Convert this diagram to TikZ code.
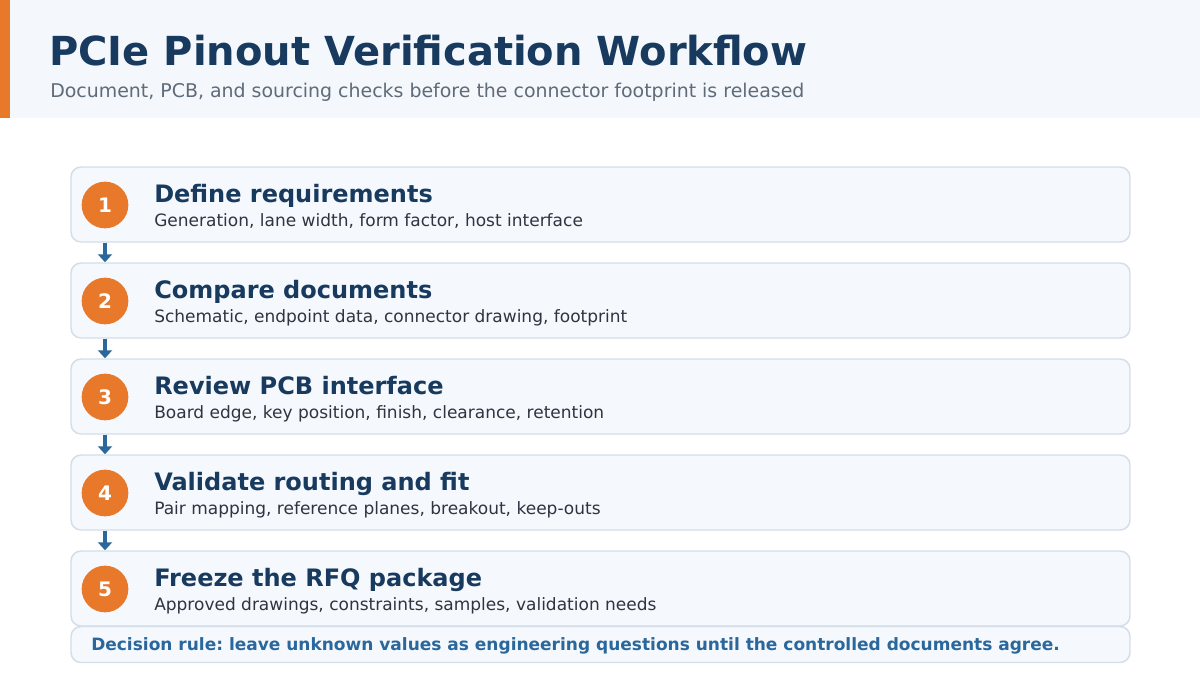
\documentclass[tikz,border=0pt]{standalone}
\usepackage{fontspec}
\setmainfont{DejaVu Sans}
\usetikzlibrary{arrows.meta}
\frenchspacing
\definecolor{navy}{HTML}{173A5E}
\definecolor{accent}{HTML}{E8782A}
\definecolor{band}{HTML}{F4F7FB}
\definecolor{boxfill}{HTML}{F5F8FC}
\definecolor{boxline}{HTML}{D3DEE9}
\definecolor{subgray}{HTML}{5F6B78}
\definecolor{bodytext}{HTML}{2E3440}
\definecolor{flowblue}{HTML}{2A679C}
\begin{document}
\begin{tikzpicture}[x=0.75pt,y=-0.75pt,
  stepbox/.style={draw=boxline, line width=1.1pt, fill=boxfill, rounded corners=7.5pt,
    minimum width=794.25pt, minimum height=56.25pt, inner sep=0pt},
  rulebox/.style={stepbox, minimum height=27pt},
  numdot/.style={circle, fill=accent, minimum size=35pt, inner sep=0pt,
    text=white, font=\fontsize{15}{18}\selectfont\bfseries},
  steptitle/.style={anchor=base west, inner sep=0pt, text=navy,
    font=\fontsize{18}{22}\selectfont\bfseries},
  stepnote/.style={anchor=base west, inner sep=0pt, text=bodytext,
    font=\fontsize{12.75}{15}\selectfont},
  flow/.style={draw=flowblue, line width=2.4pt, -{Triangle[width=10.5pt,length=6pt]}}]
\useasboundingbox (0,0) rectangle (1200,675);
% header
\fill[band] (0,0) rectangle (1200,118);
\fill[accent] (0,0) rectangle (10,118);
\node[anchor=base west, inner sep=0pt, text=navy, font=\fontsize{30}{36}\selectfont\bfseries] (title) at (49,65) {PCIe Pinout Verification Workflow};
\node[anchor=base west, inner sep=0pt, text=subgray, font=\fontsize{14.2}{17}\selectfont] (subtitle) at (50,97) {Document, PCB, and sourcing checks before the connector footprint is released};
% steps
\node[stepbox] (step1) at (600.5,204.5){};
\node[numdot] (num1) at (105,205){1};
\node[steptitle] (head1) at (154,202){Define requirements};
\node[stepnote] (note1) at (154,226){Generation, lane width, form factor, host interface};
\node[stepbox] (step2) at (600.5,300.5){};
\node[numdot] (num2) at (105,301){2};
\node[steptitle] (head2) at (154,298){Compare documents};
\node[stepnote] (note2) at (154,322){Schematic, endpoint data, connector drawing, footprint};
\node[stepbox] (step3) at (600.5,396.5){};
\node[numdot] (num3) at (105,397){3};
\node[steptitle] (head3) at (154,394){Review PCB interface};
\node[stepnote] (note3) at (154,418){Board edge, key position, finish, clearance, retention};
\node[stepbox] (step4) at (600.5,492.5){};
\node[numdot] (num4) at (105,493){4};
\node[steptitle] (head4) at (154,490){Validate routing and fit};
\node[stepnote] (note4) at (154,514){Pair mapping, reference planes, breakout, keep-outs};
\node[stepbox] (step5) at (600.5,588.5){};
\node[numdot] (num5) at (105,589){5};
\node[steptitle] (head5) at (154,586){Freeze the RFQ package};
\node[stepnote] (note5) at (154,610){Approved drawings, constraints, samples, validation needs};
\draw[flow] (num1 |- step1.south) -- (num2 |- step2.north);
\draw[flow] (num2 |- step2.south) -- (num3 |- step3.north);
\draw[flow] (num3 |- step3.south) -- (num4 |- step4.north);
\draw[flow] (num4 |- step4.south) -- (num5 |- step5.north);
% decision rule
\node[rulebox] (rule) at (600.5,644.5){};
\node[anchor=base west, inner sep=0pt, text=flowblue, font=\fontsize{12.75}{15}\selectfont\bfseries] (ruletext) at (91,650) {Decision rule: leave unknown values as engineering questions until the controlled documents agree.};
\end{tikzpicture}
\end{document}
